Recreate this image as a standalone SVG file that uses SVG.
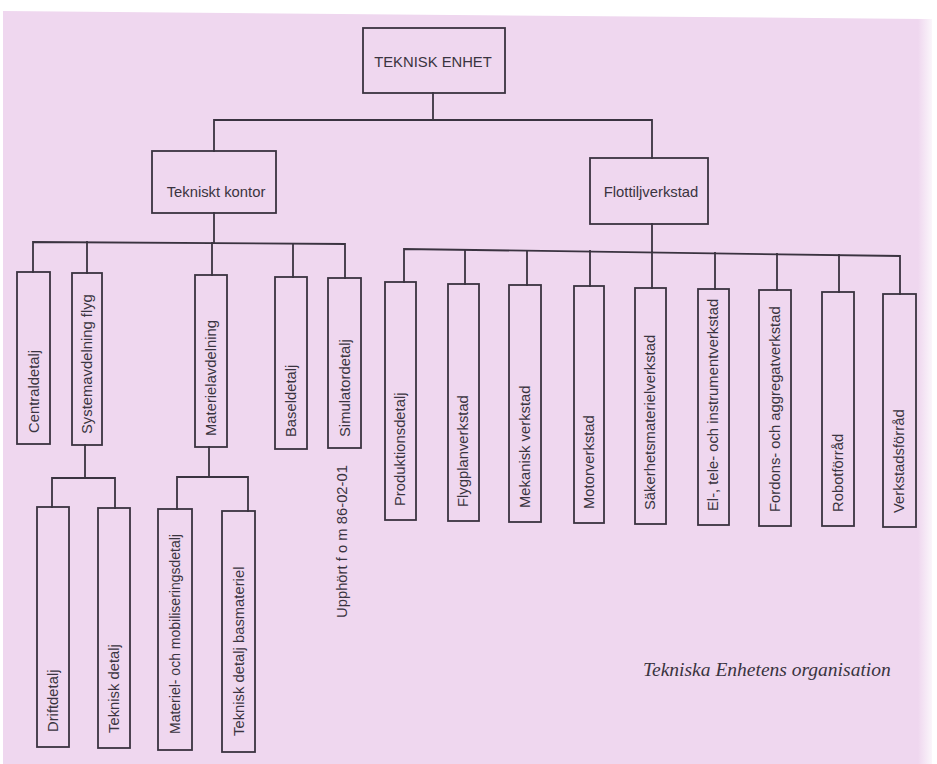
<svg xmlns="http://www.w3.org/2000/svg" width="937" height="764" viewBox="0 0 937 764">
<style>
.bx{fill:none;stroke:#3a3340;stroke-width:1.8}
.ln{fill:none;stroke:#3a3340;stroke-width:1.8;stroke-linecap:square}
.t{font-family:"Liberation Sans",Arial,sans-serif;font-size:14.8px;fill:#3a3440}
.h{text-anchor:middle}
.cap{font-family:"Liberation Serif","Times New Roman",serif;font-style:italic;font-size:19.5px;fill:#3a3440}
</style>
<defs>
<linearGradient id="edge" x1="0" y1="0" x2="1" y2="0">
<stop offset="0" stop-color="#efd7ef"/>
<stop offset="1" stop-color="#fbf6fb"/>
</linearGradient>
</defs>
<rect width="937" height="764" fill="#ffffff"/>
<polygon points="3,11 924,19 926,764 3,764" fill="#efd7ef"/>
<rect x="918" y="19" width="14" height="745" fill="url(#edge)"/>

<g id="connectors">
<polyline class="ln" points="433,93 433,120"/>
<polyline class="ln" points="214,151 214,120 652,120 652,158"/>
<polyline class="ln" points="214,213 214,243"/>
<polyline class="ln" points="33,272 33,242 345,244 345,278"/>
<line class="ln" x1="87" y1="242" x2="87" y2="273"/>
<line class="ln" x1="212" y1="243" x2="212" y2="275"/>
<line class="ln" x1="293" y1="244" x2="293" y2="277"/>
<polyline class="ln" points="85,445 85,478"/>
<polyline class="ln" points="52,507 52,478 115,478 115,508"/>
<polyline class="ln" points="209,447 209,477"/>
<polyline class="ln" points="177,509 177,477 248,477 248,511"/>
<polyline class="ln" points="652,224 652,252"/>
<polyline class="ln" points="404,282 404,249 900,256 900,294"/>
<line class="ln" x1="465" y1="250" x2="465" y2="284"/>
<line class="ln" x1="527" y1="251" x2="527" y2="285"/>
<line class="ln" x1="590" y1="251" x2="590" y2="286"/>
<line class="ln" x1="652" y1="252" x2="652" y2="288"/>
<line class="ln" x1="715" y1="253" x2="715" y2="289"/>
<line class="ln" x1="777" y1="254" x2="777" y2="290"/>
<line class="ln" x1="839" y1="255" x2="839" y2="292"/>
</g>

<g id="teknisk-enhet"><rect class="bx" x="363" y="28" width="142" height="65"/><text class="t h" x="433" y="67">TEKNISK ENHET</text></g>
<g id="tekniskt-kontor"><rect class="bx" x="152" y="151" width="124" height="62"/><text class="t h" x="216" y="197">Tekniskt kontor</text></g>
<g id="flottiljverkstad"><rect class="bx" x="590" y="158" width="118" height="66"/><text class="t h" x="651" y="197">Flottiljverkstad</text></g>

<g id="centraldetalj"><rect class="bx" x="17" y="272" width="33" height="172"/><text class="t" transform="translate(39,433) rotate(-90)">Centraldetalj</text></g>
<g id="systemavdelning-flyg"><rect class="bx" x="72" y="273" width="30" height="172"/><text class="t" transform="translate(92,434) rotate(-90)">Systemavdelning flyg</text></g>
<g id="materielavdelning"><rect class="bx" x="195" y="275" width="32" height="172"/><text class="t" transform="translate(216,436) rotate(-90)">Materielavdelning</text></g>
<g id="baseldetalj"><rect class="bx" x="275" y="277" width="32" height="172"/><text class="t" transform="translate(296,437) rotate(-90)">Baseldetalj</text></g>
<g id="simulatordetalj"><rect class="bx" x="328" y="278" width="33" height="170"/><text class="t" transform="translate(350,437) rotate(-90)">Simulatordetalj</text></g>

<g id="driftdetalj"><rect class="bx" x="37" y="507" width="32" height="240"/><text class="t" transform="translate(58,732) rotate(-90)">Driftdetalj</text></g>
<g id="teknisk-detalj"><rect class="bx" x="98" y="508" width="32" height="240"/><text class="t" transform="translate(119,733) rotate(-90)">Teknisk detalj</text></g>
<g id="materiel-mobilisering"><rect class="bx" x="158" y="509" width="34" height="241"/><text class="t" style="font-size:14px" transform="translate(180,734) rotate(-90)">Materiel- och mobiliseringsdetalj</text></g>
<g id="teknisk-detalj-basmateriel"><rect class="bx" x="222" y="511" width="33" height="241"/><text class="t" transform="translate(244,736) rotate(-90)">Teknisk detalj basmateriel</text></g>

<g id="upphort"><text class="t" transform="translate(347,618) rotate(-90)">Upphört f o m 86-02-01</text></g>

<g id="produktionsdetalj"><rect class="bx" x="385" y="282" width="31" height="238"/><text class="t" transform="translate(405,506) rotate(-90)">Produktionsdetalj</text></g>
<g id="flygplanverkstad"><rect class="bx" x="448" y="284" width="31" height="237"/><text class="t" transform="translate(468,507) rotate(-90)">Flygplanverkstad</text></g>
<g id="mekanisk-verkstad"><rect class="bx" x="509" y="285" width="32" height="237"/><text class="t" transform="translate(530,508) rotate(-90)">Mekanisk verkstad</text></g>
<g id="motorverkstad"><rect class="bx" x="574" y="286" width="30" height="237"/><text class="t" transform="translate(594,509) rotate(-90)">Motorverkstad</text></g>
<g id="sakerhetsmaterielverkstad"><rect class="bx" x="635" y="288" width="31" height="236"/><text class="t" transform="translate(655,510) rotate(-90)">Säkerhetsmaterielverkstad</text></g>
<g id="el-tele-instrumentverkstad"><rect class="bx" x="698" y="289" width="31" height="236"/><text class="t" transform="translate(718,511) rotate(-90)">El-, tele- och instrumentverkstad</text></g>
<g id="fordons-aggregatverkstad"><rect class="bx" x="759" y="290" width="32" height="236"/><text class="t" transform="translate(780,512) rotate(-90)">Fordons- och aggregatverkstad</text></g>
<g id="robotforrad"><rect class="bx" x="822" y="292" width="32" height="234"/><text class="t" transform="translate(843,512) rotate(-90)">Robotförråd</text></g>
<g id="verkstadsforrad"><rect class="bx" x="883" y="294" width="33" height="233"/><text class="t" transform="translate(904,513) rotate(-90)">Verkstadsförråd</text></g>

<text class="cap" x="643" y="676">Tekniska Enhetens organisation</text>
</svg>
